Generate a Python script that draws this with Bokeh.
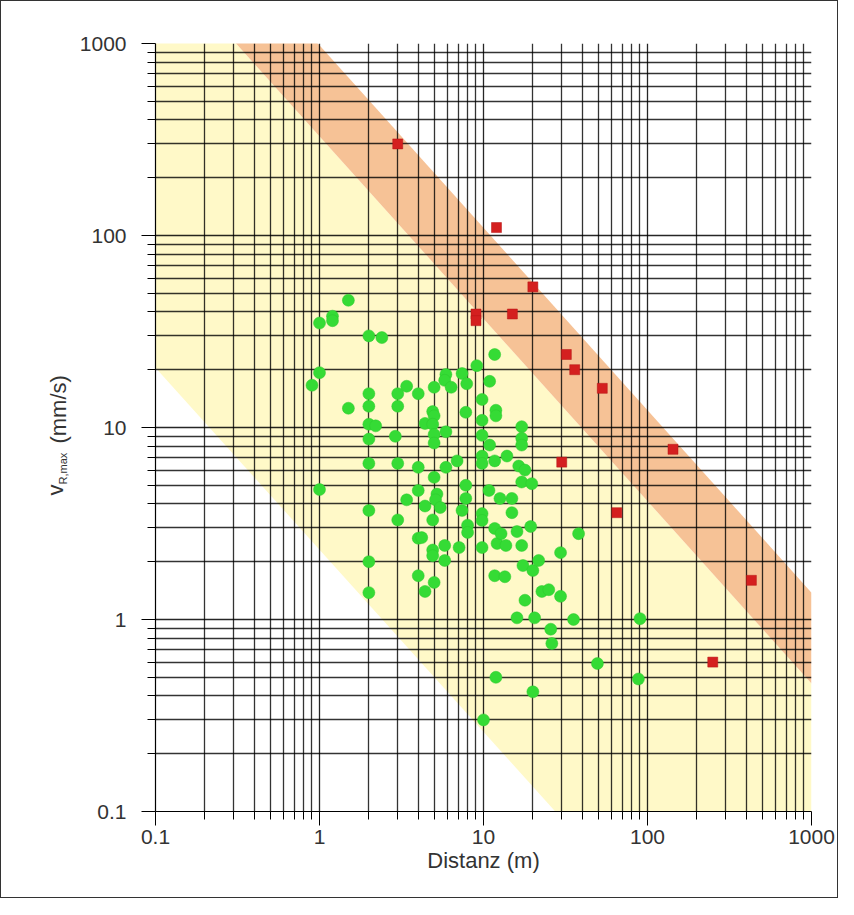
import math
from bokeh.plotting import figure
from bokeh.layouts import row
from bokeh.models import FixedTicker, Range1d
from bokeh.core.properties import value
from bokeh.embed import file_html
from bokeh.resources import INLINE

# ---------------- data ----------------
tick_values = [0.1, 1, 10, 100, 1000]
tick_labels = ["0.1", "1", "10", "100", "1000"]

# band edges (power-law lines, drawn between the x limits)
band_x = [0.1, 1000]
yellow_lower = [20.5, 0.0033]
orange_lower = [2930, 0.464]
orange_upper = [8730, 1.38]

green_x = [0.9, 1.0, 1.0, 1.0, 1.2, 1.2, 1.5, 1.5,
           2.0, 2.0, 2.0, 2.0, 2.0, 2.0, 2.0, 2.0, 2.0,
           2.2, 2.4,
           3.0, 3.0, 2.9, 3.0, 3.0,
           3.4, 3.4,
           4.0, 4.0, 4.0, 4.0, 4.2, 4.0,
           4.4, 4.4, 4.4,
           5.0, 4.9, 5.0, 4.9, 5.0, 5.0, 5.0, 5.2, 5.1, 4.9, 4.9, 4.9, 5.0, 5.45,
           5.9, 5.8, 6.35, 5.9, 5.9, 5.8, 5.8,
           7.4, 6.9, 7.4, 7.1,
           7.9, 7.8, 7.8, 7.8, 8.0, 8.0,
           9.1,
           9.8, 9.8, 9.8, 9.8, 9.8, 9.8, 9.8, 9.8, 10.0,
           10.9, 10.9, 10.8,
           11.7, 11.9, 11.9, 11.7, 11.7, 12.1, 11.7, 11.9,
           12.6, 12.8, 13.5, 13.9, 13.7,
           14.9, 14.9,
           17.1, 17.1, 17.1, 16.4, 17.9, 17.1, 17.1, 16.0, 17.4, 17.9, 16.0,
           19.7, 19.4, 20.0, 20.5, 20.0, 21.7,
           22.7, 25.0, 25.7, 26.1,
           29.5, 29.5, 35.4, 38.0, 49.5, 90.0, 88.0]
green_y = [16.6, 35, 19.3, 4.75, 38, 36, 46, 12.6,
           30, 15, 12.9, 10.4, 8.7, 6.5, 3.7, 2.0, 1.38,
           10.2, 29.4,
           15, 12.9, 9.0, 6.5, 3.3,
           16.4, 4.2,
           15, 6.2, 4.7, 2.65, 2.67, 1.69,
           10.5, 3.9, 1.4,
           16.2, 12.1, 11.5, 10.4, 9.2, 8.3, 5.5, 4.5, 4.2, 3.3, 2.3, 2.15, 1.56, 3.83,
           18.9, 17.6, 16.2, 9.5, 6.2, 2.43, 2.03,
           19.1, 6.7, 3.7, 2.37,
           16.9, 12.0, 5.0, 4.27, 3.1, 2.84,
           21,
           14, 10.9, 9.1, 7.1, 6.5, 3.56, 3.28, 2.37, 0.30,
           17.4, 8.1, 4.7,
           24, 12.3, 11.5, 6.7, 2.98, 2.49, 1.69, 0.5,
           4.27, 2.8, 1.67, 7.1, 2.43,
           4.27, 3.6,
           10.1, 8.8, 8.1, 6.3, 6.0, 5.2, 2.43, 2.87, 1.91, 1.26, 1.02,
           5.1, 3.05, 1.8, 1.02, 0.42, 2.03,
           1.4, 1.43, 0.89, 0.75,
           2.23, 1.32, 1.0, 2.8, 0.59, 1.01, 0.49]

red_x = [3, 12, 20, 9, 9, 15, 32, 36, 53, 30, 143, 65, 430, 250]
red_y = [300, 110, 54, 39, 36, 39, 24, 20, 16, 6.6, 7.7, 3.6, 1.6, 0.6]

# y-axis title pieces: text and the value on the y scale where each piece starts
y_title_text = ["v", "R,max", "(mm/s)"]
y_title_at = [4.42, 5.05, 8.25]

FONT = "Liberation Sans"
TXT = "#333333"
H = 896          # inner height (a 1px border is added around the row)
LW = 75          # width of the strip that carries the y-axis title
PW = 761         # width of the main figure
TOP, BOTTOM = 42, 86

# ---------------- main figure ----------------
p = figure(width=PW, height=H,
           x_axis_type="log", y_axis_type="log",
           x_range=(0.1, 1000), y_range=(0.1, 1000),
           output_backend="svg", toolbar_location=None,
           min_border_left=76, min_border_right=26,
           min_border_top=TOP, min_border_bottom=BOTTOM)
p.outline_line_color = None
p.background_fill_color = "white"
p.border_fill_color = "white"

# ---------------- y-title strip (shares the y scale) ----------------
lab = figure(width=LW, height=H, x_range=Range1d(0, LW), y_range=p.y_range,
             y_axis_type="log", x_axis_location=None, y_axis_location=None,
             output_backend="svg", toolbar_location=None,
             min_border_left=0, min_border_right=0,
             min_border_top=TOP, min_border_bottom=BOTTOM)
lab.outline_line_color = None
lab.grid.visible = False
lab.background_fill_color = "white"
lab.border_fill_color = "white"
lab.text(x=[54], y=[y_title_at[0]], text=[y_title_text[0]], angle=math.pi / 2,
         text_font=value(FONT), text_font_size="22px", text_color=TXT,
         text_align="left", text_baseline="alphabetic")
lab.text(x=[61], y=[y_title_at[1]], text=[y_title_text[1]], angle=math.pi / 2,
         text_font=value(FONT), text_font_size="11px", text_color=TXT,
         text_align="left", text_baseline="alphabetic")
lab.text(x=[57], y=[y_title_at[2]], text=[y_title_text[2]], angle=math.pi / 2,
         text_font=value(FONT), text_font_size="22px", text_color=TXT,
         text_align="left", text_baseline="alphabetic")

# bands
p.varea(x=band_x, y1=yellow_lower, y2=orange_lower,
        fill_color="#FFF9C8", level="image")
p.varea(x=band_x, y1=orange_lower, y2=orange_upper,
        fill_color="#F6C296", level="image")

# ticks / grid
minor = [m * 10.0 ** k for k in range(-1, 3) for m in range(2, 10)]
ticker = FixedTicker(ticks=tick_values, minor_ticks=minor)
for ax in (p.xaxis[0], p.yaxis[0]):
    ax.ticker = ticker
    ax.major_label_overrides = dict(zip(tick_values, tick_labels))
    ax.axis_line_color = "black"
    ax.axis_line_width = 1.2
    ax.major_tick_line_color = "black"
    ax.minor_tick_line_color = "black"
    ax.major_tick_in = 0
    ax.minor_tick_in = 0
    ax.major_tick_out = 14
    ax.minor_tick_out = 8
    ax.major_label_text_font = FONT
    ax.major_label_text_font_size = "21px"
    ax.major_label_text_color = TXT
    ax.axis_label_text_font = FONT
    ax.axis_label_text_font_size = "22px"
    ax.axis_label_text_font_style = "normal"
    ax.axis_label_text_color = TXT

p.xaxis.major_label_standoff = 4
p.yaxis.major_label_standoff = 15
p.xaxis.axis_label = "Distanz (m)"
p.xaxis.axis_label_standoff = 1

for g in (p.xgrid[0], p.ygrid[0]):
    g.ticker = ticker
    g.grid_line_color = "black"
    g.grid_line_width = 1.3
    g.grid_line_alpha = 0.85
    g.minor_grid_line_color = "black"
    g.minor_grid_line_width = 1.3
    g.minor_grid_line_alpha = 0.8

# points
p.scatter(green_x, green_y, marker="circle", size=12,
          fill_color="#35DB35", line_color="#2CC92C", line_width=0.5)
p.scatter(red_x, red_y, marker="square", size=10,
          fill_color="#D41F1F", line_color="#B51414", line_width=0.5)

layout = row(lab, p, spacing=0, styles={"border": "1px solid #333333"})

open("out.html", "w").write(file_html(layout, INLINE))
